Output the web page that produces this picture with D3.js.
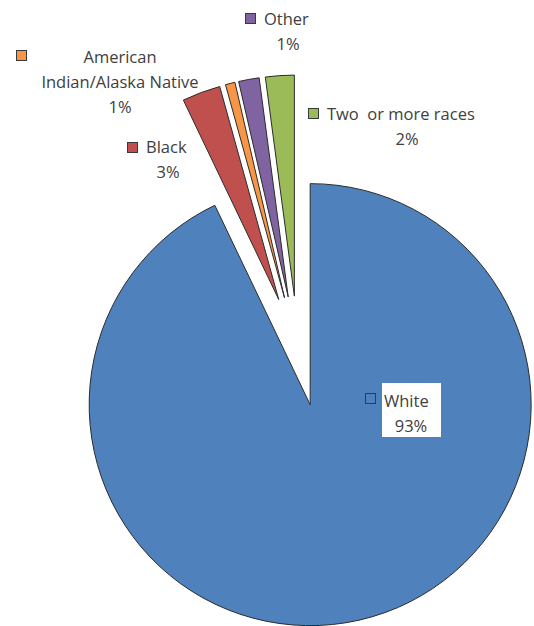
<!DOCTYPE html>
<html>
<head>
<meta charset="utf-8">
<script src="https://cdn.jsdelivr.net/npm/d3@7"></script>
<style>
  html, body { margin: 0; padding: 0; background: #fff; }
  text { font-family: "Open Sans", sans-serif; fill: #404040; white-space: pre; }
</style>
</head>
<body>
<div id="chart"></div>
<script>
// data ///////////////////////////////////////////////////////////////
const categories = ['White', 'Black', 'American Indian/Alaska Native', 'Other', 'Two  or more races'];
const values     = [92.9, 2.8, 0.7, 1.5, 2.1];
const pctLabels  = ['93%', '3%', '1%', '1%', '2%'];
const colors     = ['#4f81bd', '#c0504d', '#f79646', '#8064a2', '#9bbb59'];

// label anchors (layout only)
const labelLines = [['White'], ['Black'], ['American', 'Indian/Alaska Native'], ['Other'], ['Two  or more races']];
const labelPos   = [[411, 401], [168, 147], [120, 57], [288, 19], [407, 114]];
const swatchPos  = [[365, 393], [127, 142], [16, 50], [245, 13], [308, 108]];

const width = 534, height = 626;
const cx = 298, cy = 351, radius = 221, explode = 55;

const svg = d3.select('#chart').append('svg')
  .attr('width', width)
  .attr('height', height)
  .attr('viewBox', [0, 0, width, height]);

const pie = d3.pie().sort(null).value(d => d)(values);
const arc = d3.arc().innerRadius(0).outerRadius(radius);

const slices = svg.append('g').attr('transform', `translate(${cx},${cy})`);

slices.selectAll('path')
  .data(pie)
  .join('path')
  .attr('transform', d => {
    const a = (d.startAngle + d.endAngle) / 2;
    return `translate(${explode * Math.sin(a)},${-explode * Math.cos(a)})`;
  })
  .attr('d', arc)
  .attr('fill', (d, i) => colors[i])
  .attr('stroke', '#2b2b2b')
  .attr('stroke-width', 1)
  .attr('stroke-linejoin', 'round');

// labels ///////////////////////////////////////////////////////////
const labels = svg.append('g');
const fs = 16.5, lh = 25;

// white box behind White label
labels.append('rect')
  .attr('x', 382).attr('y', 383).attr('width', 59).attr('height', 54)
  .attr('fill', '#fff');

categories.forEach((c, i) => {
  const [lx, ly] = labelPos[i];
  const lines = labelLines[i];
  labels.append('rect')
    .attr('x', swatchPos[i][0] + 0.5).attr('y', swatchPos[i][1] + 0.5)
    .attr('width', 10).attr('height', 10)
    .attr('fill', colors[i])
    .attr('stroke', '#3a3a3a')
    .attr('stroke-width', 1);

  const single = lines.length === 1;
  lines.forEach((ln, j) => {
    labels.append('text')
      .attr('x', single ? swatchPos[i][0] + 19 : lx)
      .attr('y', ly + j * lh)
      .attr('dy', '0.35em')
      .attr('text-anchor', single ? 'start' : 'middle')
      .attr('font-size', fs)
      .text(ln);
  });
  labels.append('text')
    .attr('x', lx)
    .attr('y', ly + lines.length * lh)
    .attr('dy', '0.35em')
    .attr('text-anchor', 'middle')
    .attr('font-size', fs)
    .text(pctLabels[i]);
});
</script>
</body>
</html>
